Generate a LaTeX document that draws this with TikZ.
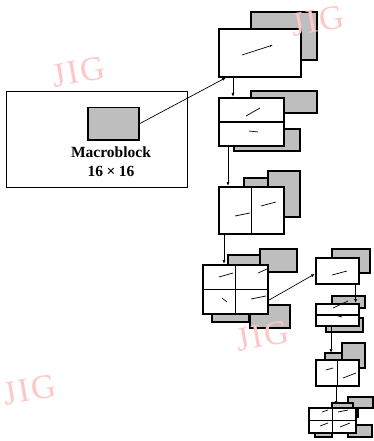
\documentclass[tikz,border=0pt]{standalone}
\usepackage{fontspec}
\setmainfont{Liberation Serif}
\usetikzlibrary{arrows.meta}
\definecolor{shadegray}{RGB}{190,190,190}
\definecolor{wmpink}{RGB}{255,198,198}

\begin{document}
\begin{tikzpicture}[x=1pt, y=-1pt,
  blk/.style={draw, line width=1.6pt, fill=white, inner sep=0pt, anchor=north west},
  shd/.style={draw, line width=1.5pt, fill=shadegray},
  split/.style={line width=1.5pt},
  mv/.style={line width=0.7pt},
  flow/.style={line width=0.7pt, -{Latex[length=4pt,width=3pt]}},
  wmark/.style={text=wmpink, font=\fontsize{34}{34}\selectfont, inner sep=0pt, rotate=10}
]
\useasboundingbox (0,0) rectangle (374,441);

% macroblock
\node[draw, line width=1.1pt, anchor=north west, minimum width=181pt, minimum height=96pt, inner sep=0pt] (frame) at (6,91) {};
\node[draw, line width=1.5pt, fill=shadegray, anchor=north west, minimum width=51pt, minimum height=32pt, inner sep=0pt] (mb) at (87,107) {};
\node[font=\bfseries\fontsize{15.5}{19}\selectfont, align=center, anchor=north] (mblabel) at (111,143) {Macroblock\\16\kern3.5pt×\kern3.5pt16};

% shadows
\draw[shd] (251,12) rectangle (317,60);
\draw[shd] (251,91) rectangle (317,113);
\draw[shd] (234,129) rectangle (300,151);
\draw[shd] (244,178) rectangle (277,190);
\draw[shd] (268,171) rectangle (300,217);
\draw[shd] (228,255) rectangle (260,266);
\draw[shd] (260,249) rectangle (297,272);
\draw[shd] (212,305) rectangle (249,322);
\draw[shd] (250,305) rectangle (290,328);
\draw[shd] (332,249) rectangle (370,273);
\draw[shd] (332,296) rectangle (365,308);
\draw[shd] (326,318) rectangle (363,332);
\draw[shd] (325,353) rectangle (347,362);
\draw[shd] (342,343) rectangle (365,368);
\draw[shd] (348,397) rectangle (373,408);
\draw[shd] (332,403) rectangle (353,410);
\draw[shd] (340,408) rectangle (358,417);
\draw[shd] (315,430) rectangle (332,437);
\draw[shd] (348,425) rectangle (372,437);

% partitions
\node[blk, minimum width=82pt, minimum height=48pt] (b1) at (218,28) {};
\node[blk, minimum width=65pt, minimum height=48pt] (b2) at (218,97) {};
\node[blk, minimum width=65pt, minimum height=47pt] (b3) at (218,186) {};
\node[blk, minimum width=65pt, minimum height=49pt] (b4) at (202,264) {};
\node[blk, minimum width=43pt, minimum height=26pt] (b5) at (315,257) {};
\node[blk, minimum width=43pt, minimum height=22pt] (b6) at (315,303) {};
\node[blk, minimum width=43pt, minimum height=26pt] (b7) at (315,359) {};
\node[blk, minimum width=47pt, minimum height=25pt] (b8) at (308,407) {};

\draw[split] (b2.west) -- (b2.east);
\draw[split] (b3.north) -- (b3.south);
\draw[split] (b4.west) -- (b4.east);
\draw[split] (b4.north) -- (b4.south);
\draw[split] (b6.west) -- (b6.east);
\draw[split] (b7.north) -- (b7.south);
\draw[split] (b8.west) -- (b8.east);
\draw[split] (b8.north) -- (b8.south);

% motion vectors
\draw[mv, -{Latex[length=3pt,width=2pt]}] (242,55) -- (273,45);
\draw[mv] (246,116) -- (260,108);
\draw[mv] (249,131) -- (258,132);
\draw[mv] (235,216) -- (250,213);
\draw[mv] (261,206) -- (276,202);
\draw[mv] (219,277) -- (233,273);
\draw[mv] (258,273) -- (267,269);
\draw[mv] (222,298) -- (227,302);
\draw[mv] (251,299) -- (266,296);
\draw[mv] (332,275) -- (347,271);
\draw[mv] (333,308) -- (348,301);
\draw[mv] (335,315) -- (342,317);
\draw[mv] (326,370) -- (333,368);
\draw[mv] (343,378) -- (356,373);
\draw[mv] (322,412) -- (328,410);
\draw[mv] (338,412) -- (348,410);
\draw[mv] (320,426) -- (328,423);
\draw[mv] (340,427) -- (350,423);

% flow
\draw[flow] (mb.east) -- ([xshift=8pt]b1.south west);
\draw[flow] ([xshift=15pt]b1.south west) -- ([xshift=15pt]b2.north west);
\draw[flow] ([xshift=10pt]b2.south west) -- ([xshift=10pt]b3.north west);
\draw[flow] ([xshift=6pt]b3.south west) -- ([xshift=22pt]b4.north west);
\draw[flow] ([yshift=-11pt]b4.east) -- ([yshift=-3pt]b5.west);
\draw[flow] ([xshift=-4pt]b5.south east) -- ([xshift=-4pt]b6.north east);
\draw[flow] ([xshift=16pt]b6.south west) -- ([xshift=16pt,yshift=6pt]b7.north west);
\draw[flow] ([xshift=21pt]b7.south west) -- ([xshift=28pt,yshift=2pt]b8.north west);

% watermarks
\node[wmark] (wm1) at (79,72) {J\kern2pt I\kern2pt G};
\node[wmark] (wm2) at (318,21) {J\kern2pt I\kern2pt G};
\node[wmark] (wm3) at (263,336) {J\kern2pt I\kern2pt G};
\node[wmark] (wm4) at (30,390) {J\kern2pt I\kern2pt G};
\end{tikzpicture}
\end{document}
